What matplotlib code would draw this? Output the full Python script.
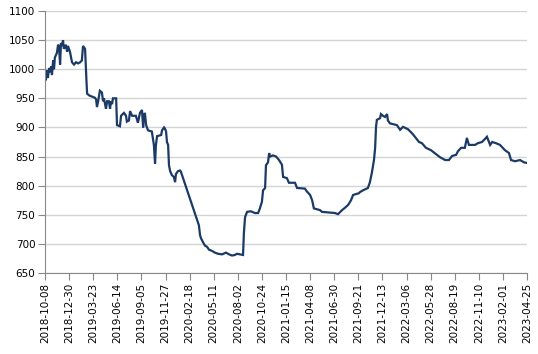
import pandas as pd
import numpy as np
import matplotlib
matplotlib.use('Agg')
import matplotlib.pyplot as plt
import matplotlib.dates as mdates

# values
dates = ['2018-10-08', '2018-10-11', '2018-10-15', '2018-10-18', '2018-10-22', '2018-10-25',
         '2018-10-29', '2018-11-01', '2018-11-05', '2018-11-08', '2018-11-11', '2018-11-18',
         '2018-11-22', '2018-11-25', '2018-11-29', '2018-12-02', '2018-12-06', '2018-12-09',
         '2018-12-12', '2018-12-19', '2018-12-23', '2018-12-26', '2019-01-02', '2019-01-06',
         '2019-01-09', '2019-01-16', '2019-01-23', '2019-01-30', '2019-02-06', '2019-02-12',
         '2019-02-16', '2019-02-23', '2019-02-26', '2019-02-28', '2019-03-02', '2019-03-09',
         '2019-03-19', '2019-03-29', '2019-04-02', '2019-04-05', '2019-04-09', '2019-04-15',
         '2019-04-22', '2019-04-26', '2019-04-29', '2019-05-06', '2019-05-10', '2019-05-16',
         '2019-05-20', '2019-05-23', '2019-05-27', '2019-05-30', '2019-06-10', '2019-06-13',
         '2019-06-23', '2019-06-27', '2019-07-07', '2019-07-14', '2019-07-17', '2019-07-24',
         '2019-07-28', '2019-08-04', '2019-08-17', '2019-08-24', '2019-08-31', '2019-09-07',
         '2019-09-11', '2019-09-14', '2019-09-17', '2019-09-21', '2019-09-24', '2019-09-28',
         '2019-10-11', '2019-10-15', '2019-10-18', '2019-10-22', '2019-10-25', '2019-10-29',
         '2019-11-12', '2019-11-15', '2019-11-22', '2019-11-25', '2019-11-29', '2019-12-02',
         '2019-12-06', '2019-12-09', '2019-12-13', '2019-12-19', '2019-12-26', '2019-12-30',
         '2020-01-02', '2020-01-09', '2020-01-16', '2020-01-19', '2020-03-21', '2020-03-25',
         '2020-03-28', '2020-04-04', '2020-04-11', '2020-04-18', '2020-04-25', '2020-05-05',
         '2020-05-15', '2020-05-26', '2020-06-09', '2020-06-22', '2020-07-03', '2020-07-13',
         '2020-07-23', '2020-07-30', '2020-08-20', '2020-08-23', '2020-08-27', '2020-09-03',
         '2020-09-16', '2020-09-30', '2020-10-11', '2020-10-17', '2020-10-24', '2020-10-28',
         '2020-11-04', '2020-11-07', '2020-11-14', '2020-11-18', '2020-11-21', '2020-12-01',
         '2020-12-12', '2020-12-22', '2021-01-01', '2021-01-05', '2021-01-18', '2021-01-25',
         '2021-02-15', '2021-02-22', '2021-03-21', '2021-03-28', '2021-04-08', '2021-04-15',
         '2021-04-21', '2021-05-12', '2021-05-19', '2021-07-03', '2021-07-13', '2021-07-27',
         '2021-08-06', '2021-08-17', '2021-08-27', '2021-09-03', '2021-09-23', '2021-09-27',
         '2021-10-07', '2021-10-24', '2021-10-31', '2021-11-07', '2021-11-14', '2021-11-18',
         '2021-11-21', '2021-11-24', '2021-12-05', '2021-12-08', '2021-12-15', '2021-12-22',
         '2021-12-29', '2022-01-01', '2022-01-08', '2022-02-01', '2022-02-12', '2022-02-22',
         '2022-03-11', '2022-03-25', '2022-04-04', '2022-04-18', '2022-04-28', '2022-05-12',
         '2022-05-29', '2022-06-16', '2022-06-29', '2022-07-17', '2022-07-30', '2022-08-10',
         '2022-08-24', '2022-08-30', '2022-09-10', '2022-09-23', '2022-09-30', '2022-10-07',
         '2022-10-28', '2022-11-07', '2022-11-21', '2022-12-01', '2022-12-08', '2022-12-15',
         '2022-12-19', '2022-12-26', '2023-01-08', '2023-01-22', '2023-02-08', '2023-02-22',
         '2023-03-01', '2023-03-15', '2023-04-01', '2023-04-15', '2023-04-25']
values = [1000, 981, 998, 985, 1002, 995,
          1005, 990, 1015, 1000, 1020, 1028,
          1042, 1040, 1008, 1045, 1040, 1050,
          1035, 1042, 1030, 1040, 1030, 1020,
          1012, 1008, 1012, 1010, 1012, 1015,
          1040, 1035, 1000, 978, 958, 955,
          953, 951, 948, 935, 945, 963,
          960, 945, 950, 932, 945, 945,
          932, 945, 940, 950, 950, 904,
          902, 920, 925, 920, 910, 912,
          928, 920, 920, 908, 925, 930,
          900, 920, 925, 905, 900, 895,
          893, 880, 870, 838, 870, 885,
          887, 895, 900, 898, 893, 875,
          870, 835, 825, 818, 815, 806,
          820, 825, 826, 824, 732, 715,
          710, 703, 697, 695, 690, 688,
          685, 683, 682, 685, 682, 680,
          681, 683, 681, 719, 746, 755,
          756, 753, 753, 761, 772, 792,
          796, 835, 840, 856, 850, 852,
          850, 844, 836, 815, 813, 805,
          805, 796, 795, 790, 784, 775,
          761, 758, 755, 753, 751, 758,
          762, 767, 775, 784, 787, 789,
          792, 796, 806, 823, 844, 865,
          901, 913, 916, 923, 920, 918,
          923, 912, 907, 904, 896, 901,
          897, 890, 884, 875, 873, 865,
          861, 854, 849, 844, 844, 851,
          853, 859, 865, 865, 882, 870,
          870, 873, 875, 880, 884, 875,
          870, 875, 873, 870, 861, 856,
          844, 842, 844, 840, 839]

start, end = pd.Timestamp('2018-10-08'), pd.Timestamp('2023-04-25')
tick_dates = pd.date_range(start, end, freq='83D')

x = pd.to_datetime(dates)

fig = plt.figure(figsize=(5.38, 3.54), dpi=100)
ax = fig.add_axes([45 / 538, 1 - 273 / 354, (527 - 45) / 538, (273 - 11) / 354])

ax.plot(x, values, color='#1b3a66', linewidth=1.6, solid_joinstyle='miter')

ax.set_xlim(start, end)
ax.set_ylim(650, 1100)
ax.set_yticks(np.arange(650, 1101, 50))
ax.set_xticks(tick_dates)
ax.xaxis.set_major_formatter(mdates.DateFormatter('%Y-%m-%d'))
ax.tick_params(axis='x', rotation=90, labelsize=7.5, length=5, color='#888888', pad=2)
ax.tick_params(axis='y', labelsize=7.5, length=5, color='#888888', pad=2)

ax.grid(axis='y', color='#d4d4d4', linewidth=1)
ax.set_axisbelow(True)
for s in ['top', 'right']:
    ax.spines[s].set_visible(False)
for s in ['left', 'bottom']:
    ax.spines[s].set_color('#888888')

fig.savefig('out.png', dpi=100)
